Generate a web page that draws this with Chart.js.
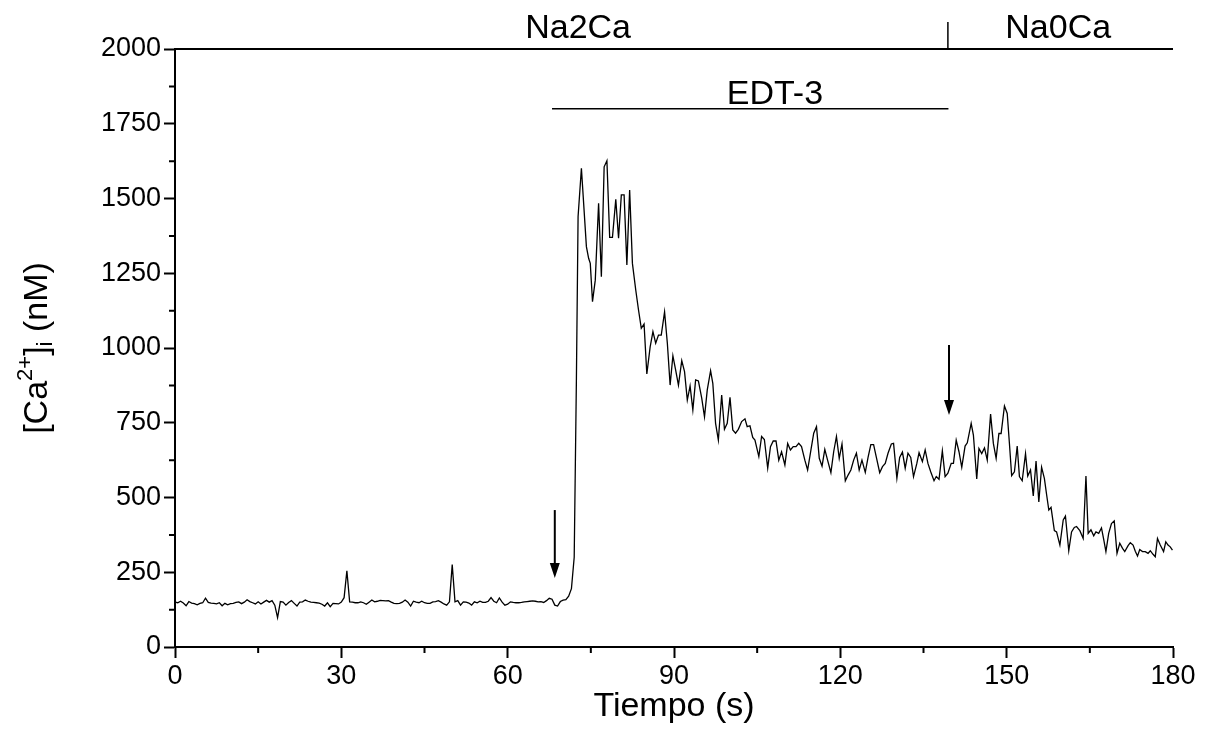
<!DOCTYPE html>
<html>
<head>
<meta charset="utf-8">
<script src="https://cdn.jsdelivr.net/npm/chart.js@4"></script>
<style>
  body { margin: 0; background: #fff; }
  canvas { display: block; }
</style>
</head>
<body>
<canvas id="caChart" width="1207" height="732"></canvas>
<script>
// [Ca2+]i trace, time in s / concentration in nM

const timeS = [
    0, 0.5, 1, 1.5, 2, 2.5, 3, 3.5, 4, 4.5,
    5, 5.5, 6, 6.5, 7, 7.5, 8, 8.5, 9, 9.5,
    10, 10.5, 11, 11.5, 12, 12.5, 13, 13.5, 14, 14.5,
    15, 15.5, 16, 16.5, 17, 17.5, 18, 18.5, 19, 19.5,
    20, 20.5, 21, 21.5, 22, 22.5, 23, 23.5, 24, 24.5,
    25, 25.5, 26, 26.5, 27, 27.5, 28, 28.5, 29, 29.5,
    30, 30.5, 31, 31.5, 32, 32.5, 33, 33.5, 34, 34.5,
    35, 35.5, 36, 36.5, 37, 37.5, 38, 38.5, 39, 39.5,
    40, 40.5, 41, 41.5, 42, 42.5, 43, 43.5, 44, 44.5,
    45, 45.5, 46, 46.5, 47, 47.5, 48, 48.5, 49, 49.5,
    50, 50.5, 51, 51.5, 52, 52.5, 53, 53.5, 54, 54.5,
    55, 55.5, 56, 56.5, 57, 57.5, 58, 58.5, 59, 59.5,
    60, 60.5, 61, 61.5, 62, 62.5, 63, 63.5, 64, 64.5,
    65, 65.5, 66, 66.5, 67, 67.5, 68, 68.5, 69, 69.5,
    70, 70.5, 71, 71.5,
    72.0, 72.4, 72.7, 73.3, 74.2, 74.6, 74.9, 75.3, 75.8, 76.4,
    76.9, 77.4, 77.9, 78.4, 78.9, 79.5, 80.0, 80.5, 81.0, 81.5,
    82.0, 82.5, 83.1, 83.6, 84.1, 84.6, 85.1, 85.7, 86.2, 86.7,
    87.2, 87.7, 88.3, 88.8, 89.3, 89.8, 90.3, 90.8, 91.4, 91.9,
    92.4, 92.9, 93.4, 93.9, 94.4, 95.0, 95.5, 96.0, 96.6, 97.0,
    97.5, 98.0, 98.6, 99.1, 99.6, 100.1, 100.6, 101.1, 101.6, 102.2,
    102.8, 103.2, 103.7, 104.2, 104.6, 105.3, 105.8, 106.3, 106.9, 107.4,
    107.9, 108.4, 108.9, 109.4, 110.0, 110.5, 111.0, 111.5, 112.0, 112.5,
    113.0, 113.6, 114.1, 114.7, 115.2, 115.7, 116.2, 116.7, 117.2, 117.7,
    118.3, 118.8, 119.3, 119.8, 120.3, 120.9, 121.4, 121.9, 122.4, 122.9,
    123.4, 123.9, 124.5, 125.0, 125.5, 126.0, 126.5, 127.1, 127.6, 128.1,
    128.6, 129.2, 129.6, 130.2, 130.7, 131.2, 131.7, 132.2, 132.7, 133.2,
    133.8, 134.2, 134.8, 135.3, 135.8, 136.3, 136.9, 137.3, 137.8, 138.4,
    138.9, 139.4, 140.0, 140.4, 140.9, 141.4, 141.9, 142.5, 142.9, 143.6,
    144.0, 144.6, 145.0, 145.5, 146.0, 146.5, 147.1, 147.6, 148.1, 148.6,
    149.0, 149.6, 150.1, 150.5, 150.9, 151.4, 151.9, 152.3, 152.8, 153.4,
    153.8, 154.3, 154.8, 155.3, 155.8, 156.3, 156.8, 157.2, 157.6, 158.0,
    158.6, 159.0, 159.6, 160.2, 160.6, 161.2, 161.7, 162.2, 162.6, 163.2,
    163.8, 164.3, 164.7, 165.2, 165.7, 166.1, 166.6, 167.1, 167.5, 167.9,
    168.4, 168.9, 169.4, 169.9, 170.4, 170.9, 171.3, 171.9, 172.3, 172.8,
    173.2, 173.6, 174.0, 174.5, 175.0, 175.5, 175.9, 176.4, 176.8, 177.2,
    177.7, 178.3, 178.7, 179.1, 179.5, 179.9
];

const caNM = [
    150, 148, 153, 147, 138, 152, 147, 145, 141, 146,
    148, 163, 149, 147, 146, 144, 148, 138, 146, 141,
    145, 146, 149, 151, 145, 150, 158, 152, 148, 144,
    151, 144, 150, 156, 150, 155, 140, 98, 152, 150,
    140, 149, 155, 146, 137, 150, 151, 157, 153, 150,
    149, 148, 147, 143, 137, 148, 135, 146, 145, 144,
    150, 165, 255, 151, 150, 148, 148, 151, 148, 143,
    150, 157, 151, 153, 156, 155, 154, 155, 150, 146,
    145, 146, 150, 157, 150, 137, 153, 150, 148, 153,
    148, 146, 146, 151, 152, 155, 150, 144, 140, 151,
    276, 151, 155, 140, 151, 150, 147, 140, 151, 148,
    153, 149, 149, 153, 165, 153, 148, 164, 150, 140,
    143, 151, 149, 148, 148, 149, 151, 152, 153, 154,
    153, 151, 152, 149, 155, 163, 160, 140, 137, 152,
    157, 158, 170, 195,
    300, 900, 1440, 1601, 1339, 1300, 1283, 1155, 1227, 1484,
    1238, 1606, 1626, 1370, 1370, 1497, 1367, 1512, 1512, 1278,
    1528, 1283, 1194, 1127, 1066, 1080, 913, 1004, 1055, 1016,
    1043, 1043, 1121, 1016, 876, 974, 926, 876, 958, 921,
    826, 873, 793, 893, 890, 832, 770, 860, 924, 882,
    748, 692, 843, 728, 748, 835, 726, 715, 728, 754,
    763, 737, 740, 701, 692, 637, 704, 694, 598, 670,
    689, 689, 625, 653, 609, 681, 659, 670, 670, 681,
    670, 625, 592, 659, 715, 737, 631, 605, 661, 625,
    583, 653, 704, 631, 679, 556, 575, 592, 625, 648,
    592, 625, 584, 634, 677, 677, 634, 583, 603, 614,
    648, 679, 681, 564, 634, 652, 598, 648, 634, 570,
    614, 650, 620, 659, 614, 586, 556, 570, 561, 656,
    570, 581, 614, 614, 692, 653, 601, 672, 683, 748,
    709, 562, 664, 647, 666, 625, 779, 681, 631, 714,
    714, 806, 781, 680, 573, 586, 672, 570, 556, 647,
    572, 592, 505, 622, 485, 601, 564, 510, 458, 467,
    389, 385, 341, 425, 438, 322, 385, 400, 403, 389,
    363, 572, 380, 392, 372, 385, 380, 398, 360, 319,
    380, 413, 422, 313, 347, 330, 319, 339, 349, 341,
    320, 304, 326, 319, 319, 313, 322, 310, 302, 363,
    341, 319, 352, 341, 335, 324
];

// solution bars (start s, end s, level nM)
const naBar = [0, 180, 2000];
const edtBar = [68, 139.5, 1800];
const switchTime = 139.4;

// arrows: time, tail (nM), tip (nM)
const arrowTimes = [68.5, 139.6];
const arrowTails = [458, 1010];
const arrowTips = [231, 776];

const xTicks = [0, 30, 60, 90, 120, 150, 180];
const yTicks = [0, 250, 500, 750, 1000, 1250, 1500, 1750, 2000];
const xMinor = [15, 45, 75, 105, 135, 165];
const yMinor = [125, 375, 625, 875, 1125, 1375, 1625, 1875];

const FONT = "'Liberation Sans', Arial, sans-serif";

const extras = {
    id: "extras",
    afterDraw(chart) {
        const c = chart.ctx;
        const xs = chart.scales.x;
        const ys = chart.scales.y;
        const area = chart.chartArea;
        c.save();
        c.strokeStyle = "#000";
        c.fillStyle = "#000";

        // minor ticks
        c.lineWidth = 2;
        c.beginPath();
        xMinor.forEach(v => {
            const px = xs.getPixelForValue(v);
            c.moveTo(px, area.bottom);
            c.lineTo(px, area.bottom + 6);
        });
        yMinor.forEach(v => {
            const py = ys.getPixelForValue(v);
            c.moveTo(area.left, py);
            c.lineTo(area.left - 6, py);
        });
        c.stroke();

        // solution change mark
        c.lineWidth = 1.5;
        c.beginPath();
        c.moveTo(xs.getPixelForValue(switchTime), ys.getPixelForValue(2000));
        c.lineTo(xs.getPixelForValue(switchTime), ys.getPixelForValue(2090));
        c.stroke();

        // arrows
        arrowTimes.forEach((t, i) => {
            const px = xs.getPixelForValue(t);
            const y0 = ys.getPixelForValue(arrowTails[i]);
            const y1 = ys.getPixelForValue(arrowTips[i]);
            c.lineWidth = 2;
            c.beginPath();
            c.moveTo(px, y0);
            c.lineTo(px, y1 - 12);
            c.stroke();
            c.beginPath();
            c.moveTo(px - 5, y1 - 15);
            c.lineTo(px + 5, y1 - 15);
            c.lineTo(px, y1);
            c.closePath();
            c.fill();
        });

        // labels
        c.font = "34px " + FONT;
        c.textAlign = "center";
        c.textBaseline = "middle";
        c.fillText("Na2Ca", xs.getPixelForValue(72.7), ys.getPixelForValue(2068));
        c.fillText("Na0Ca", xs.getPixelForValue(159.3), ys.getPixelForValue(2068));
        c.fillText("EDT-3", xs.getPixelForValue(108.2), ys.getPixelForValue(1846));

        // x title
        c.fillText("Tiempo (s)", (area.left + area.right) / 2, 707);

        // y title with super/subscript
        const parts = [
            ["[Ca", 34, 0],
            ["2+", 22, -12],
            ["]", 34, 0],
            ["i", 22, 8],
            [" (nM)", 34, 0]
        ];
        let total = 0;
        parts.forEach(p => {
            c.font = p[1] + "px " + FONT;
            total += c.measureText(p[0]).width;
        });
        c.translate(38, (area.top + area.bottom) / 2);
        c.rotate(-Math.PI / 2);
        c.textAlign = "left";
        let pos = -total / 2;
        parts.forEach(p => {
            c.font = p[1] + "px " + FONT;
            c.fillText(p[0], pos, p[2]);
            pos += c.measureText(p[0]).width;
        });
        c.restore();
    }
};

const ctx = document.getElementById("caChart");

new Chart(ctx, {
    type: "line",
    data: {
        datasets: [
            {
                data: timeS.map((t, i) => ({ x: t, y: caNM[i] })),
                borderColor: "#000",
                borderWidth: 1.3,
                pointRadius: 0,
                tension: 0
            },
            {
                data: [{ x: naBar[0], y: naBar[2] }, { x: naBar[1], y: naBar[2] }],
                borderColor: "#000",
                borderWidth: 2,
                pointRadius: 0,
                clip: false
            },
            {
                data: [{ x: edtBar[0], y: edtBar[2] }, { x: edtBar[1], y: edtBar[2] }],
                borderColor: "#000",
                borderWidth: 1.5,
                pointRadius: 0
            }
        ]
    },
    options: {
        responsive: false,
        animation: false,
        layout: { padding: { top: 49, right: 34, left: 0, bottom: 0 } },
        plugins: {
            legend: { display: false },
            tooltip: { enabled: false }
        },
        scales: {
            x: {
                type: "linear",
                min: 0,
                max: 180,
                afterBuildTicks: s => { s.ticks = xTicks.map(v => ({ value: v })); },
                afterFit: s => { s.height = 85; },
                grid: { drawOnChartArea: false, tickLength: 11, tickWidth: 2, tickColor: "#000" },
                border: { color: "#000", width: 2 },
                ticks: { color: "#000", font: { family: FONT, size: 27 }, padding: 2, maxRotation: 0,
                         callback: v => String(v) }
            },
            y: {
                min: 0,
                max: 2000,
                afterBuildTicks: s => { s.ticks = yTicks.map(v => ({ value: v })); },
                afterFit: s => { s.width = 175; },
                grid: { drawOnChartArea: false, tickLength: 11, tickWidth: 2, tickColor: "#000" },
                border: { color: "#000", width: 2 },
                ticks: { color: "#000", font: { family: FONT, size: 27 }, padding: 3,
                         callback: v => String(v) }
            }
        }
    },
    plugins: [extras]
});
</script>
</body>
</html>
